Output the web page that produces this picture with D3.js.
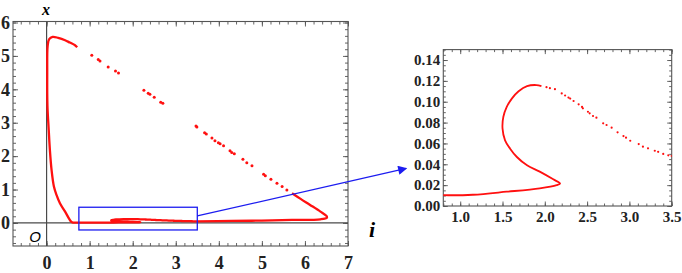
<!DOCTYPE html>
<html>
<head>
<meta charset="utf-8">
<script src="https://cdn.jsdelivr.net/npm/d3@7"></script>
<style>
  body { margin: 0; background: #fff; }
  svg { display: block; }
  .lbl text { font-family: "Liberation Serif", "DejaVu Serif", serif; font-weight: bold; fill: #222; }
</style>
</head>
<body>
<script>
// points are [i, x]
// left branch, from the top hook down to the floor
const leftBranch = [[0.71,5.26],[0.66,5.32],[0.54,5.40],[0.43,5.47],[0.27,5.54],[0.14,5.57],[0.06,5.50],[0.025,5.3],
  [0.015,4.5],[0.02,3.5],[0.05,2.78],[0.077,2.18],[0.116,1.58],[0.17,1.09],[0.23,0.84],[0.31,0.59],[0.43,0.34],[0.57,0.04],[0.62,0.012]]
// floor branch up to the S bend tip (zoomed panel)
const lowerBranch = [[0.62,0.012],[0.8,0.0105],[1.15,0.0108],[1.55,0.0137],[1.94,0.017],[2.14,0.020],[2.18,0.0215]]
// back from the tip, up round the bend to the peak
const sBend = [[2.18,0.0215],[2.10,0.0256],[1.94,0.033],[1.79,0.039],[1.67,0.047],[1.59,0.055],[1.53,0.063],[1.50,0.0745],
  [1.51,0.0856],[1.55,0.095],[1.61,0.103],[1.69,0.110],[1.79,0.115],[1.90,0.116],[1.96,0.115]]
// sparse points after the peak
const tailDots = [[2.02,0.114],[2.06,0.113],[2.12,0.112],[2.20,0.108],[2.24,0.106],[2.28,0.104],[2.30,0.103],[2.34,0.1007],
  [2.40,0.0975],[2.44,0.095],[2.45,0.0937],[2.51,0.0904],[2.53,0.0889],[2.57,0.0863],[2.61,0.0847],[2.69,0.0793],[2.73,0.0777],
  [2.79,0.0751],[2.86,0.0707],[2.93,0.0671],[2.96,0.0655],[3.01,0.0626],[3.11,0.0594],[3.16,0.0569],[3.22,0.0553],[3.30,0.053],
  [3.34,0.052],[3.40,0.0499],[3.46,0.0486],[3.50,0.048]]
// floor to the right corner and back up
const rightBranch = [[3.50,0.048],[4.3,0.06],[5.0,0.07],[5.70,0.09],[6.36,0.11],[6.51,0.16],[6.50,0.21],[6.36,0.34],
  [6.12,0.54],[5.90,0.72],[5.70,0.89]]
// the dotted return diagonal
const diagonalDots = [[5.58,0.99],[5.47,1.09],[5.35,1.19],[5.21,1.31],[5.08,1.41],[5.04,1.46],[4.77,1.71],[4.65,1.80],[4.56,1.91],
  [4.36,2.07],[4.30,2.11],[4.26,2.16],[4.11,2.31],[4.03,2.37],[3.99,2.40],[3.91,2.46],[3.84,2.54],[3.71,2.66],[3.67,2.70],
  [3.49,2.87],[3.47,2.90],[2.70,3.58],[2.65,3.61],[2.50,3.76],[2.40,3.85],[2.36,3.88],[2.26,3.97],[1.67,4.49],[1.60,4.55],
  [1.43,4.67],[1.24,4.85],[1.20,4.89],[1.05,5.02]]

const mainXTicks = [0,1,2,3,4,5,6,7]
const mainYTicks = [0,1,2,3,4,5,6]
const zoomXTicks = [1.0,1.5,2.0,2.5,3.0,3.5]
const zoomYTicks = [0,0.02,0.04,0.06,0.08,0.10,0.12,0.14]
const zoomBox = { i0: 0.75, i1: 3.5, x0: -0.21, x1: 0.47 }

const RED = "#ff1010", BLUE = "#1c1cf0", FRAME = "#555"

const svg = d3.select("body").append("svg").attr("width", 682).attr("height", 273)

// ---------- main plot ----------
const x = d3.scaleLinear().domain([-0.78, 7.0]).range([13, 348])
const y = d3.scaleLinear().domain([-0.69, 6.03]).range([246, 21.5])

function frameTicks(g, scaleX, scaleY, majX, minX, majY, minY, big, small) {
  const [l, r] = scaleX.range(), [b, t] = scaleY.range()
  const sides = [
    [d3.axisBottom(scaleX), `translate(0,${b})`, majX, minX],
    [d3.axisTop(scaleX), `translate(0,${t})`, majX, minX],
    [d3.axisLeft(scaleY), `translate(${l},0)`, majY, minY],
    [d3.axisRight(scaleY), `translate(${r},0)`, majY, minY]
  ]
  sides.forEach(([ax, tr, maj, min]) => {
    const a1 = g.append("g").attr("transform", tr)
      .call(ax.tickValues(maj).tickSize(-big).tickFormat(""))
    const a2 = g.append("g").attr("transform", tr)
      .call(ax.tickValues(min).tickSize(-small).tickFormat(""))
    ;[a1, a2].forEach(a => {
      a.select(".domain").remove()
      a.selectAll("line").attr("stroke", FRAME).attr("stroke-width", 0.9)
    })
  })
  g.append("rect").attr("x", l).attr("y", t).attr("width", r - l).attr("height", b - t)
    .attr("fill", "none").attr("stroke", FRAME).attr("stroke-width", 1.1)
}

function range(a, b, s) {
  const out = []
  for (let k = Math.ceil(a / s - 1e-9); k * s <= b + 1e-9; k++) out.push(+(k * s).toFixed(4))
  return out
}

const main = svg.append("g")
frameTicks(main, x, y, range(-0.78, 7, 1), range(-0.78, 7, 0.2), range(-0.69, 6.03, 1), range(-0.69, 6.03, 0.2), 5, 3)

// coordinate axes
main.append("line").attr("x1", x(0)).attr("x2", x(0)).attr("y1", y(6.03)).attr("y2", y(-0.69))
  .attr("stroke", "#4a4a4a").attr("stroke-width", 1.2)
main.append("line").attr("x1", x(-0.78)).attr("x2", x(7)).attr("y1", y(0)).attr("y2", y(0))
  .attr("stroke", "#4a4a4a").attr("stroke-width", 1.2)

// tick labels
main.append("g").attr("class", "lbl").attr("transform", "translate(0,246)")
  .call(d3.axisBottom(x).tickValues(mainXTicks).tickSize(0).tickPadding(10).tickFormat(d3.format("d")))
  .call(g => g.select(".domain").remove())
  .selectAll("text").attr("font-size", 18)
main.append("g").attr("class", "lbl").attr("transform", "translate(13,0)")
  .call(d3.axisLeft(y).tickValues(mainYTicks).tickSize(0).tickPadding(3).tickFormat(d3.format("d")))
  .call(g => g.select(".domain").remove())
  .selectAll("text").attr("font-size", 18)

const line = d3.line().x(d => x(d[0])).y(d => y(d[1])).curve(d3.curveCatmullRom)
main.append("path")
  .datum([].concat(leftBranch, lowerBranch.slice(1), sBend.slice(1), tailDots))
  .attr("d", line).attr("fill", "none").attr("stroke", RED).attr("stroke-width", 2.3).attr("stroke-linejoin", "round")
main.append("path").datum(rightBranch)
  .attr("d", line).attr("fill", "none").attr("stroke", RED).attr("stroke-width", 2.3).attr("stroke-linejoin", "round")
main.selectAll("circle.d").data(diagonalDots).join("circle")
  .attr("cx", d => x(d[0])).attr("cy", d => y(d[1])).attr("r", 1.5).attr("fill", RED)

// zoom box
main.append("rect")
  .attr("x", x(zoomBox.i0)).attr("y", y(zoomBox.x1))
  .attr("width", x(zoomBox.i1) - x(zoomBox.i0)).attr("height", y(zoomBox.x0) - y(zoomBox.x1))
  .attr("fill", "none").attr("stroke", BLUE).attr("stroke-width", 1.3)

// axis names
main.append("text").attr("x", 46).attr("y", 15).attr("text-anchor", "middle")
  .attr("font-family", "Liberation Serif").attr("font-style", "italic").attr("font-weight", "bold")
  .attr("font-size", 16).text("x")
svg.append("text").attr("x", 372).attr("y", 237).attr("text-anchor", "middle")
  .attr("font-family", "Liberation Serif").attr("font-style", "italic").attr("font-weight", "bold")
  .attr("font-size", 22).text("i")
main.append("text").attr("x", 35).attr("y", 242).attr("text-anchor", "middle")
  .attr("font-family", "Liberation Sans").attr("font-style", "italic").attr("font-size", 15).text("O")

// ---------- zoomed panel ----------
const xz = d3.scaleLinear().domain([0.8, 3.5]).range([443.3, 671.7])
const yz = d3.scaleLinear().domain([0, 0.15]).range([206, 49.6])

const inset = svg.append("g")
svg.append("clipPath").attr("id", "zclip").append("rect")
  .attr("x", 443.3).attr("y", 49.6).attr("width", 228.4).attr("height", 156.4)
frameTicks(inset, xz, yz, zoomXTicks, range(0.8, 3.5, 0.1), zoomYTicks, range(0, 0.15, 0.005), 4.5, 2.5)

inset.append("g").attr("class", "lbl").attr("transform", "translate(0,206)")
  .call(d3.axisBottom(xz).tickValues(zoomXTicks).tickSize(0).tickPadding(5).tickFormat(d3.format(".1f")))
  .call(g => g.select(".domain").remove())
  .selectAll("text").attr("font-size", 15)
inset.append("g").attr("class", "lbl").attr("transform", "translate(443.3,0)")
  .call(d3.axisLeft(yz).tickValues(zoomYTicks).tickSize(0).tickPadding(3).tickFormat(d3.format(".2f")))
  .call(g => g.select(".domain").remove())
  .selectAll("text").attr("font-size", 15)

const zline = d3.line().x(d => xz(d[0])).y(d => yz(d[1])).curve(d3.curveCatmullRom)
const zc = inset.append("g").attr("clip-path", "url(#zclip)")
zc.append("path").datum([].concat(lowerBranch, sBend.slice(1)))
  .attr("d", zline).attr("fill", "none").attr("stroke", RED).attr("stroke-width", 1.8).attr("stroke-linejoin", "round")
zc.selectAll("circle").data(tailDots).join("circle")
  .attr("cx", d => xz(d[0])).attr("cy", d => yz(d[1])).attr("r", 1.1).attr("fill", RED)

// ---------- pointer arrow ----------
svg.append("defs").append("marker").attr("id", "arr")
  .attr("viewBox", "0 0 10 10").attr("refX", 9).attr("refY", 5)
  .attr("markerWidth", 12).attr("markerHeight", 9).attr("markerUnits", "userSpaceOnUse").attr("orient", "auto")
  .append("path").attr("d", "M0,0L10,5L0,10z").attr("fill", BLUE)
svg.append("line")
  .attr("x1", x(zoomBox.i1)).attr("y1", y(0.21))
  .attr("x2", xz(0.8) - 37).attr("y2", yz(0.036))
  .attr("stroke", BLUE).attr("stroke-width", 1.3).attr("marker-end", "url(#arr)")
</script>
</body>
</html>
